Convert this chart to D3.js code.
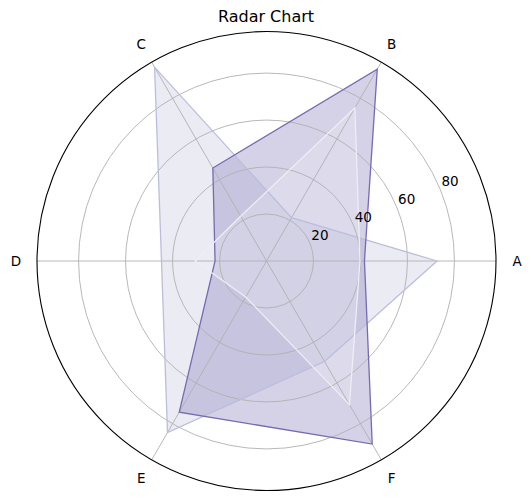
<!DOCTYPE html>
<html>
<head>
<meta charset="utf-8">
<script src="https://cdn.jsdelivr.net/npm/d3@7"></script>
<style>
  html, body { margin: 0; padding: 0; background: #ffffff; }
  svg text { font-family: "DejaVu Sans", sans-serif; }
</style>
</head>
<body>
<svg id="chart" width="531" height="502"></svg>
<script>
// ---- data ----
const categories = ["A", "B", "C", "D", "E", "F"];
const seriesLight = [72.6, 21.3, 95.3, 44.7, 84.3, 49.4];
const seriesDark  = [41.7, 94.3, 45.7, 21.9, 74.3, 90.0];
const seriesWhite = [39.8, 75.2, 22.0, 30.4, 17.7, 70.6];
const radialTicks = [20, 40, 60, 80];
const rMax = 97.7;
const title = "Radar Chart";

// ---- layout ----
const svg = d3.select("#chart");
const cx = 266.5, cy = 261, R = 229.5;
const r = d3.scaleLinear().domain([0, rMax]).range([0, R]);
const angle = d3.scalePoint().domain(categories).range([0, 2 * Math.PI * (categories.length - 1) / categories.length]);
// math angle (counter-clockwise from east) -> d3 radial angle (clockwise from north)
const d3a = c => Math.PI / 2 - angle(c);
const pt = (c, v) => [cx + r(v) * Math.cos(angle(c)), cy - r(v) * Math.sin(angle(c))];

const g = svg.append("g").attr("transform", `translate(${cx},${cy})`);

const series = [
  { values: seriesLight, color: "#bcbddc" },
  { values: seriesDark,  color: "#756bb1" },
  { values: seriesWhite, color: "#efedf5" }
];

const radial = d3.lineRadial()
  .angle((d, i) => d3a(categories[i]))
  .radius(d => r(d))
  .curve(d3.curveLinearClosed);

// fills
series.forEach(s => {
  g.append("path").attr("d", radial(s.values))
    .attr("fill", s.color).attr("fill-opacity", 0.3).attr("stroke", "none");
});

// grid circles
radialTicks.forEach(t => {
  g.append("circle").attr("r", r(t)).attr("fill", "none")
    .attr("stroke", "#b0b0b0").attr("stroke-width", 0.9);
});
// spokes
categories.forEach(c => {
  const [x, y] = pt(c, rMax);
  g.append("line").attr("x1", 0).attr("y1", 0)
    .attr("x2", x - cx).attr("y2", y - cy)
    .attr("stroke", "#b0b0b0").attr("stroke-width", 0.9);
});

// lines
series.forEach(s => {
  g.append("path").attr("d", radial(s.values))
    .attr("fill", "none").attr("stroke", s.color)
    .attr("stroke-width", 1.3).attr("stroke-linejoin", "miter");
});

// outer circle
g.append("circle").attr("r", r(rMax)).attr("fill", "none")
  .attr("stroke", "#000").attr("stroke-width", 1.1);

// radial tick labels (at 22.5 degrees)
const la = 22.5 * Math.PI / 180;
radialTicks.forEach(t => {
  svg.append("text")
    .attr("x", cx + r(t) * Math.cos(la) + 10)
    .attr("y", cy - r(t) * Math.sin(la) - 8)
    .attr("text-anchor", "middle").attr("dominant-baseline", "central")
    .attr("font-size", 13.5).attr("fill", "#000").text(t);
});

// category labels
categories.forEach(c => {
  const a = angle(c);
  svg.append("text")
    .attr("x", cx + (R + 21) * Math.cos(a))
    .attr("y", cy - (R + 21) * Math.sin(a))
    .attr("text-anchor", "middle").attr("dominant-baseline", "central")
    .attr("font-size", 13.5).attr("fill", "#000").text(c);
});

// title
svg.append("text").attr("x", 266).attr("y", 22)
  .attr("text-anchor", "middle").attr("font-size", 16).attr("fill", "#000").text(title);
</script>
</body>
</html>
